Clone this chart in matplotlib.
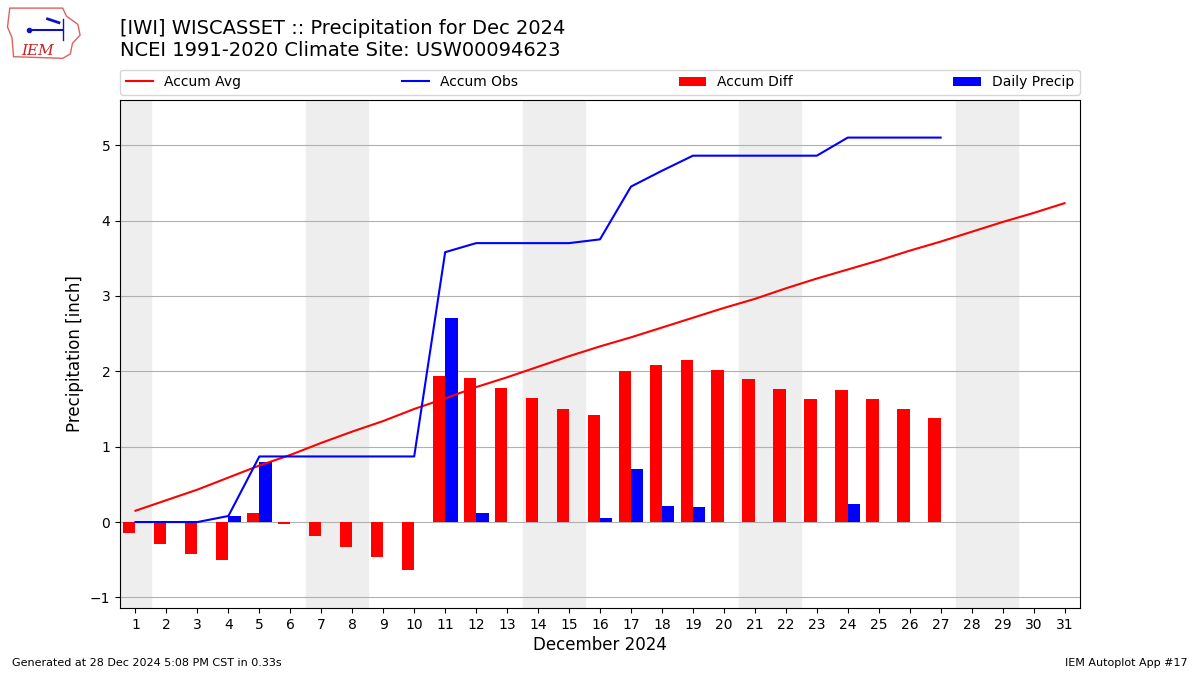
import matplotlib.pyplot as plt
from matplotlib.patches import Polygon

days = list(range(1, 32))
# accumulated climatology (inch), all 31 days
accum_avg = [0.15, 0.29, 0.43, 0.59, 0.75, 0.89, 1.05, 1.20, 1.34, 1.50,
             1.64, 1.79, 1.92, 2.06, 2.20, 2.33, 2.45, 2.58, 2.71, 2.84,
             2.96, 3.10, 3.23, 3.35, 3.47, 3.60, 3.72, 3.85, 3.98, 4.10, 4.23]
# observations only through the 27th
obs_days = list(range(1, 28))
daily_precip = [0.0, 0.0, 0.0, 0.08, 0.79, 0.0, 0.0, 0.0, 0.0, 0.0,
                2.71, 0.12, 0.0, 0.0, 0.0, 0.05, 0.70, 0.21, 0.20, 0.0,
                0.0, 0.0, 0.0, 0.24, 0.0, 0.0, 0.0]
accum_obs = [0.0, 0.0, 0.0, 0.08, 0.87, 0.87, 0.87, 0.87, 0.87, 0.87,
             3.58, 3.70, 3.70, 3.70, 3.70, 3.75, 4.45, 4.66, 4.86, 4.86,
             4.86, 4.86, 4.86, 5.10, 5.10, 5.10, 5.10]
accum_diff = [o - a for o, a in zip(accum_obs, accum_avg)]
weekends = [(0.5, 1.5), (6.5, 8.5), (13.5, 15.5), (20.5, 22.5), (27.5, 29.5)]

fig = plt.figure(figsize=(12, 6.75), dpi=100)
ax = fig.add_axes([0.1, 0.0993, 0.8, 0.7527])

for lo, hi in weekends:
    ax.axvspan(lo, hi, color='#eeeeee', zorder=0)

ax.plot(days, accum_avg, color='r', label='Accum Avg', zorder=3)
ax.plot(obs_days, accum_obs, color='b', label='Accum Obs', zorder=3)
ax.bar(obs_days, accum_diff, width=-0.4, align='edge', color='r',
       label='Accum Diff', zorder=2)
ax.bar(obs_days, daily_precip, width=0.4, align='edge', color='b',
       label='Daily Precip', zorder=2)

ax.set_xlim(0.5, 31.5)
ax.set_ylim(-1.14, 5.6)
ax.set_xticks(days)
ax.set_axisbelow(True)
ax.grid(axis='y', color='#b0b0b0')
ax.set_xlabel('December 2024', fontsize=12, labelpad=3)
ax.set_ylabel('Precipitation [inch]', fontsize=12)
ax.legend(bbox_to_anchor=(0, 1.01, 1, 0.05), loc='lower left', ncol=4,
          mode='expand', borderaxespad=0, fontsize=10)

fig.text(0.1, 0.958, '[IWI] WISCASSET :: Precipitation for Dec 2024',
         fontsize=14, va='center')
fig.text(0.1, 0.925, 'NCEI 1991-2020 Climate Site: USW00094623',
         fontsize=14, va='center')
fig.text(0.01, 0.013, 'Generated at 28 Dec 2024 5:08 PM CST in 0.33s', fontsize=8)
fig.text(0.99, 0.013, 'IEM Autoplot App #17', fontsize=8, ha='right')

# rough IEM logo
logo = fig.add_axes([0.005, 0.912, 0.063, 0.08])
logo.axis('off')
logo.set_xlim(0, 1)
logo.set_ylim(0, 1)
outline = [(0.05, 0.95), (0.75, 0.95), (0.8, 0.8), (0.95, 0.65), (0.98, 0.45),
           (0.88, 0.3), (0.85, 0.1), (0.75, 0.02), (0.1, 0.05), (0.08, 0.4),
           (0.02, 0.6)]
logo.add_patch(Polygon(outline, closed=True, fill=False, ec='#e06060', lw=1))
logo.plot([0.3, 0.75], [0.55, 0.55], color='#1010c0', lw=1.5)
logo.plot([0.3], [0.55], 'o', color='#1010c0', ms=3)
logo.plot([0.75, 0.75], [0.35, 0.75], color='#1010c0', lw=1)
logo.plot([0.55, 0.7], [0.75, 0.68], color='#1010c0', lw=2)
logo.text(0.2, 0.08, 'IEM', color='#cc2020', fontsize=11, family='DejaVu Serif',
          style='italic')

fig.savefig('out.png')
